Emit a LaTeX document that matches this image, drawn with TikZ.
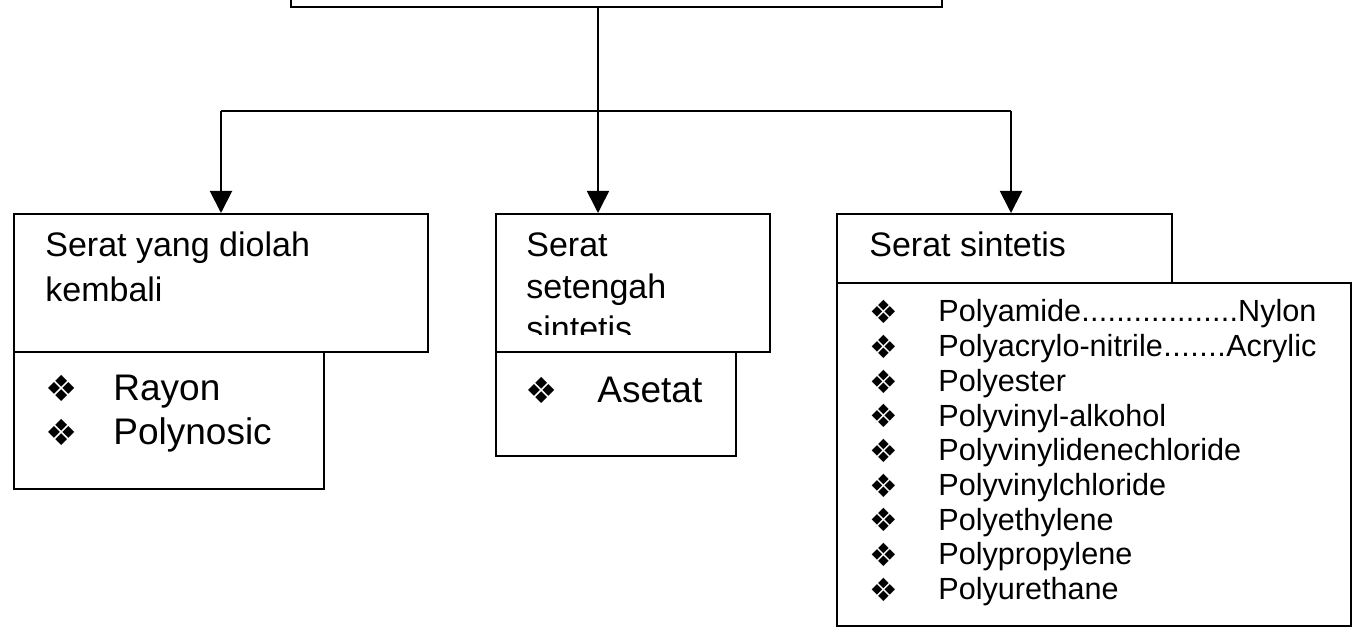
\documentclass[tikz,border=0pt]{standalone}
\usepackage{fontspec}
\setmainfont{Liberation Sans}
\newfontfamily\symfont{DejaVu Sans}
\usepackage{tikz}
\usetikzlibrary{arrows.meta,calc,positioning}

\begin{document}
\begin{tikzpicture}[x=0.5pt, y=-0.5pt,
    box/.style={rectangle, draw, line width=1pt, inner sep=0pt, anchor=north west},
    head/.style={anchor=base west, inner sep=0pt, font=\fontsize{17}{20}\selectfont},
    bigitem/.style={anchor=base west, inner sep=0pt, font=\fontsize{18.5}{22}\selectfont},
    smallitem/.style={anchor=base west, inner sep=0pt, text width=189pt, font=\fontsize{15.3}{18}\selectfont},
    bul/.style={inner sep=0pt, font=\symfont\fontsize{16}{16}\selectfont},
    arr/.style={-{Triangle[length=11pt, width=11pt]}, line width=1pt}]
    \useasboundingbox (0,0) rectangle (1354,635);
    \clip (0,0) rectangle (1354,635);

    \node[box, anchor=south west, minimum width=325.5pt, minimum height=60pt] (top) at (290,8) {};

    \node[box, minimum width=207pt, minimum height=69pt] (regen) at (13,213) {};
    \node[box, minimum width=155pt, minimum height=68.5pt] (regenlist) at (13,351) {};
    \node[box, minimum width=137pt, minimum height=69pt] (semi) at (495,213) {};
    \node[box, minimum width=120pt, minimum height=52pt] (semilist) at (495,351) {};
    \node[box, minimum width=167.5pt, minimum height=34.5pt] (synth) at (836,213) {};
    \node[box, minimum width=257pt, minimum height=171.5pt] (synthlist) at (836,282) {};

    \node[head] (regen1) at (45,257) {Serat yang diolah};
    \node[head] (regen2) at (45,302) {kembali};
    \node[bul, font=\symfont\fontsize{18}{18}\selectfont] (rb1) at (62,388) {❖};
    \node[bigitem] (rayon) at (113,401) {Rayon};
    \node[bul, font=\symfont\fontsize{18}{18}\selectfont] (rb2) at (62,432) {❖};
    \node[bigitem] (polynosic) at (113,445) {Polynosic};

    \node[head] (semi1) at (526,257) {Serat};
    \node[head] (semi2) at (526,299) {setengah};
    \begin{scope}
        \clip (495,300) rectangle (769,335);
        \node[head] (semi3) at (526,341) {sintetis};
    \end{scope}
    \node[bul, font=\symfont\fontsize{18}{18}\selectfont] (sb1) at (542,390) {❖};
    \node[bigitem] (asetat) at (597,403) {Asetat};

    \node[head] (synth1) at (869,257) {Serat sintetis};
    \foreach \t [count=\i from 0] in {{Polyamide\xleaders\hbox{.}\hfill Nylon},
        {Polyacrylo-nitrile\xleaders\hbox{.}\hfill Acrylic}, Polyester, Polyvinyl-alkohol,
        Polyvinylidenechloride, Polyvinylchloride, Polyethylene, Polypropylene, Polyurethane} {
        \node[bul] (tb\i) at (884,{312+34.7*\i}) {❖};
        \node[smallitem] (t\i) at (938,{322+34.7*\i}) {\t};
    }

    \coordinate (hub) at (598,111);
    \coordinate (hl) at (221,111);
    \coordinate (hr) at (1011,111);
    \draw[line width=1pt] (hl) -- (hr);
    \draw[arr, line width=0.8pt] (top.south -| hub) -- (hub |- semi.north);
    \draw[arr] (hl) -- (hl |- regen.north);
    \draw[arr] (hr) -- (hr |- synth.north);
\end{tikzpicture}
\end{document}
